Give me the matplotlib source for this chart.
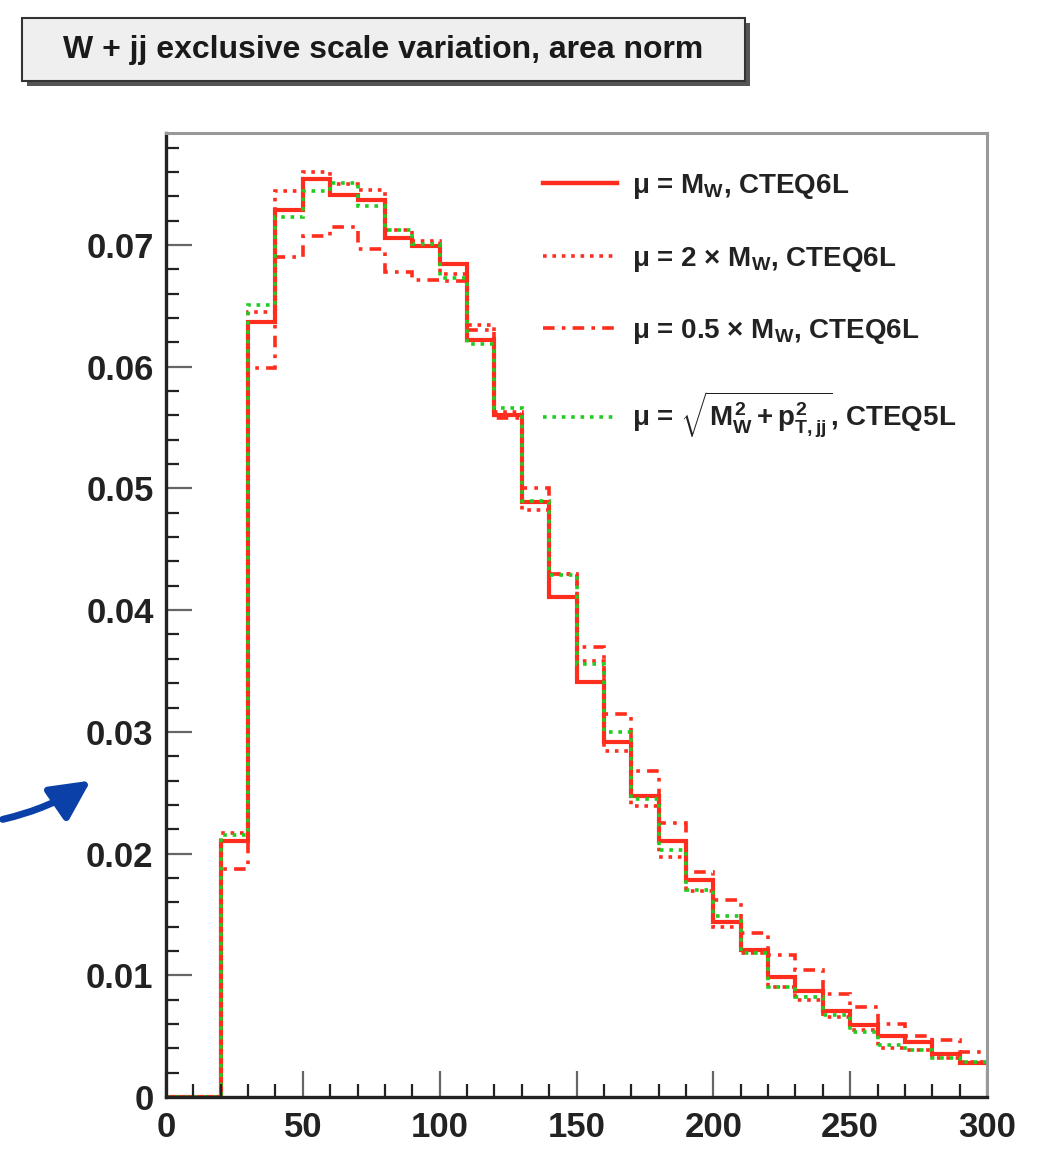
import matplotlib
matplotlib.use('Agg')
import matplotlib.pyplot as plt
from matplotlib.patches import Rectangle, FancyArrowPatch
from matplotlib.lines import Line2D
from matplotlib.ticker import MultipleLocator
import numpy as np

# ---------------------------------------------------------------
# histogram contents, 10 GeV bins from 0 to 300
# ---------------------------------------------------------------
edges = np.arange(0, 301, 10)

h_mw = [0.0, 0.0, 0.0210, 0.0637, 0.0729, 0.0754, 0.0741, 0.0737, 0.0706,
        0.0699, 0.0684, 0.0622, 0.0560, 0.0489, 0.0411, 0.0341, 0.0292,
        0.0247, 0.0210, 0.0178, 0.0144, 0.0121, 0.0099, 0.0087, 0.0071,
        0.0059, 0.0050, 0.0045, 0.0035, 0.0028]

h_2mw = [0.0, 0.0, 0.0217, 0.0645, 0.0744, 0.0760, 0.0750, 0.0745, 0.0712,
         0.0703, 0.0676, 0.0634, 0.0563, 0.0482, 0.0430, 0.0358, 0.0284,
         0.0239, 0.0197, 0.0169, 0.0140, 0.0118, 0.0090, 0.0080, 0.0066,
         0.0055, 0.0040, 0.0039, 0.0032, 0.0029]

h_05mw = [0.0, 0.0, 0.0187, 0.0599, 0.0690, 0.0707, 0.0715, 0.0697, 0.0678,
          0.0671, 0.0670, 0.0630, 0.0558, 0.0500, 0.0430, 0.0370, 0.0315,
          0.0268, 0.0225, 0.0185, 0.0162, 0.0135, 0.0117, 0.0104, 0.0085,
          0.0074, 0.0060, 0.0050, 0.0047, 0.0037]

h_cteq5 = [0.0, 0.0, 0.0215, 0.0651, 0.0723, 0.0744, 0.0751, 0.0732, 0.0712,
           0.0701, 0.0673, 0.0619, 0.0566, 0.0490, 0.0429, 0.0356, 0.0300,
           0.0245, 0.0203, 0.0170, 0.0149, 0.0118, 0.0090, 0.0082, 0.0067,
           0.0053, 0.0043, 0.0039, 0.0032, 0.0029]

etiquetas = [r'$\mu$ = M$_{W}$, CTEQ6L',
             r'$\mu$ = 2 $\times$ M$_{W}$, CTEQ6L',
             r'$\mu$ = 0.5 $\times$ M$_{W}$, CTEQ6L',
             r'$\mu$ = $\sqrt{M_{W}^{2} + p_{T,jj}^{2}}$, CTEQ5L']

titulo = 'W + jj exclusive scale variation, area norm'

#################
# ESTILO
#################
plt.rcParams['font.family'] = ['Liberation Sans', 'DejaVu Sans']
plt.rcParams['font.weight'] = 'bold'
plt.rcParams['mathtext.fontset'] = 'custom'
plt.rcParams['mathtext.rm'] = 'Liberation Sans:bold'
plt.rcParams['mathtext.it'] = 'Liberation Sans:bold'
plt.rcParams['mathtext.bf'] = 'Liberation Sans:bold'

rojo = '#ff2d1e'
verde = '#1fcc1f'

W, H = 1043, 1167
fig = plt.figure(figsize=(W / 100, H / 100), dpi=100)
ax = fig.add_axes([166 / W, 1 - 1097 / H, (987 - 166) / W, (1097 - 133) / H])

lw = 2.6
punteado = (0, (1, 1.6))
raya_punto = (0, (3.2, 2.0, 1.0, 2.0))

ax.stairs(h_mw, edges, baseline=None, color=rojo, lw=lw + 0.4, ls='-')
ax.stairs(h_2mw, edges, baseline=None, color=rojo, lw=lw, ls=punteado)
ax.stairs(h_05mw, edges, baseline=None, color=rojo, lw=lw, ls=raya_punto)
ax.stairs(h_cteq5, edges, baseline=None, color=verde, lw=lw, ls=punteado)

ax.set_xlim(0, 300)
ax.set_ylim(0, 0.0792)

ax.xaxis.set_major_locator(MultipleLocator(50))
ax.xaxis.set_minor_locator(MultipleLocator(10))
ax.yaxis.set_major_locator(MultipleLocator(0.01))
ax.yaxis.set_minor_locator(MultipleLocator(0.002))
ax.yaxis.set_major_formatter(plt.FuncFormatter(
    lambda v, p: '0' if abs(v) < 1e-9 else '%.2f' % v))

ax.tick_params(which='both', direction='in', top=False, right=False,
               labelsize=25, colors='#222222')
ax.tick_params(which='major', length=19, width=1.6, color='#666666')
ax.tick_params(which='minor', length=9.5, width=1.6, color='#222222')
ax.tick_params(axis='y', pad=9)
ax.tick_params(axis='x', pad=10)

for s in ['left', 'bottom']:
    ax.spines[s].set_linewidth(2.4)
    ax.spines[s].set_color('#222222')
for s in ['top', 'right']:
    ax.spines[s].set_linewidth(2.2)
    ax.spines[s].set_color('#999999')

# leyenda sin marco
handles = [Line2D([], [], color=rojo, lw=lw + 0.6, ls='-'),
           Line2D([], [], color=rojo, lw=lw, ls=punteado),
           Line2D([], [], color=rojo, lw=lw, ls=raya_punto),
           Line2D([], [], color=verde, lw=lw, ls=punteado)]
ax.legend(handles, etiquetas, loc='upper left',
          bbox_to_anchor=((543 - 166) / (987 - 166), 1 - 39 / (1097 - 133)),
          frameon=False, fontsize=20, handlelength=2.65, handletextpad=0.55,
          labelspacing=1.57, borderaxespad=0, borderpad=0,
          labelcolor='#222222')

# caja del título con sombra
fig.add_artist(Rectangle((27 / W, 1 - 86 / H), 723 / W, 63 / H,
                         transform=fig.transFigure, facecolor='#555555',
                         edgecolor='none', zorder=1))
fig.add_artist(Rectangle((22 / W, 1 - 81 / H), 723 / W, 63 / H,
                         transform=fig.transFigure, facecolor='#efefef',
                         edgecolor='#333333', lw=1.5, zorder=2))
fig.text(383 / W, 1 - 50 / H, titulo, ha='center', va='center',
         fontsize=23, fontweight='bold', color='#1a1a1a', zorder=3)

# flecha azul a la izquierda
flecha = FancyArrowPatch((0 / W, 1 - 820 / H), (93 / W, 1 - 779 / H),
                         transform=fig.transFigure,
                         connectionstyle='arc3,rad=0.1',
                         arrowstyle='-|>,head_length=2.0,head_width=1.0',
                         mutation_scale=12, lw=5, color='#0a40a8')
fig.add_artist(flecha)

fig.savefig('out.png', dpi=100)
